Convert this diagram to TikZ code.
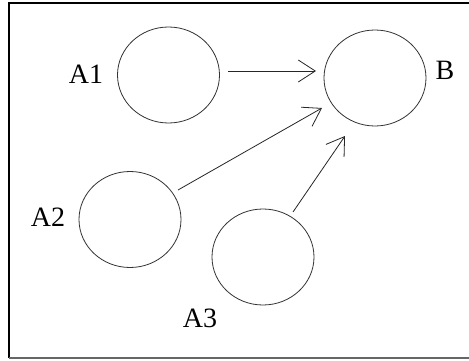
\documentclass[tikz,border=0pt]{standalone}
\usepackage{fontspec}
\setmainfont{Liberation Serif}
\usetikzlibrary{shapes.geometric,arrows.meta,calc}
\begin{document}
\begin{tikzpicture}[x=1pt,y=-1pt,
  circ/.style={ellipse,draw=black!80,line width=0.8pt,minimum width=102pt,minimum height=96pt,inner sep=0pt},
  lbl/.style={font=\fontsize{28}{32}\selectfont,inner sep=0pt},
  arr/.style={draw=black!85,line width=0.8pt,-{Straight Barb[length=17pt,width=22pt,line width=0.8pt]}}]
\useasboundingbox (0,0) rectangle (469,361);
\fill[white] (0,0) rectangle (469,361);
\draw[black,line width=1.5pt] (469,3) -- (9,3) -- (9,358);
\draw[black!60,line width=2pt] (9,358) -- (469,358);
\node[circ] (A1) at (168.5,75) {};
\node[circ] (B) at (375,78) {};
\node[circ] (A2) at (130,219.5) {};
\node[circ] (A3) at (263,257) {};
\node[lbl] (lA1) at (86,74) {A1};
\node[lbl] (lB) at (445,70) {B};
\node[lbl] (lA2) at (48,217) {A2};
\node[lbl] (lA3) at (200,318) {A3};
\draw[arr] ($(A1)+(59.5,-4)$) -- ($(B)+(-59,-7)$);
\draw[arr] ($(A2)+(48,-29.5)$) -- ($(B)+(-53,30)$);
\draw[arr] ($(A3)+(30,-45)$) -- ($(B)+(-30,58)$);
\end{tikzpicture}
\end{document}
